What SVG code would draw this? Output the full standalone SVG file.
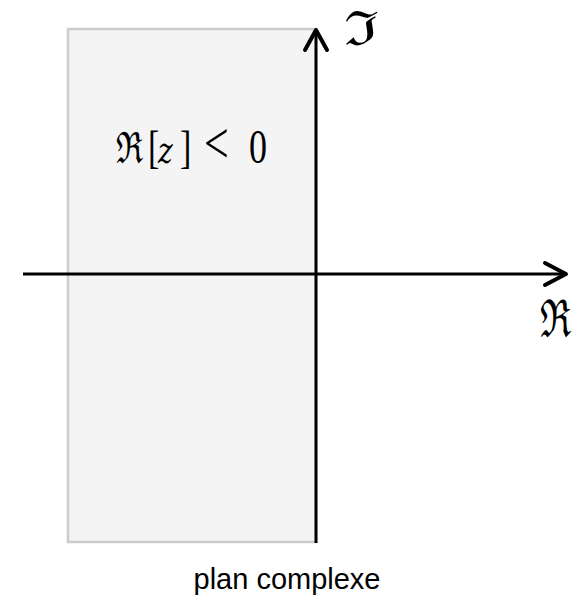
<svg xmlns="http://www.w3.org/2000/svg" width="574" height="597" viewBox="0 0 574 597">
<style>
.math{font-family:"DejaVu Serif","Liberation Serif",serif;fill:#000}
.rm{font-family:"Liberation Serif","Times New Roman",serif}
.axis{stroke:#000;stroke-width:3;fill:none}
.head{stroke:#000;stroke-width:4;fill:none;stroke-linecap:round;stroke-linejoin:round}
</style>
<rect width="574" height="597" fill="#fff"/>
<g id="region">
<rect x="68" y="29" width="248" height="513" fill="#f4f4f4" stroke="#cccccc" stroke-width="2.5"/>
<text class="math" transform="translate(116,163) scale(1,1.35)" font-size="32"><tspan x="0">ℜ</tspan><tspan class="rm" x="32" font-size="34">[</tspan><tspan x="42" font-style="italic" font-size="28">z</tspan><tspan class="rm" x="64" font-size="34">]</tspan><tspan class="rm" x="88" font-size="44">&lt;</tspan><tspan class="rm" x="133" font-size="36">0</tspan></text>
</g>
<g id="connectors">
<line class="axis" x1="316" y1="543" x2="316" y2="31"/>
<polyline class="head" points="305,50 316,30 327,50"/>
<line class="axis" x1="23" y1="274" x2="565" y2="274"/>
<polyline class="head" points="545,263 566,274 545,285"/>
</g>
<g id="labels">
<text class="math" transform="translate(344,45) scale(1.55,1.18)" font-size="40">ℑ</text>
<text class="math" transform="translate(540,337) scale(0.92,1.3)" font-size="40">ℜ</text>
<text x="287" y="589" font-family="Liberation Sans,Arial,sans-serif" font-size="29" text-anchor="middle">plan complexe</text>
</g>
</svg>
